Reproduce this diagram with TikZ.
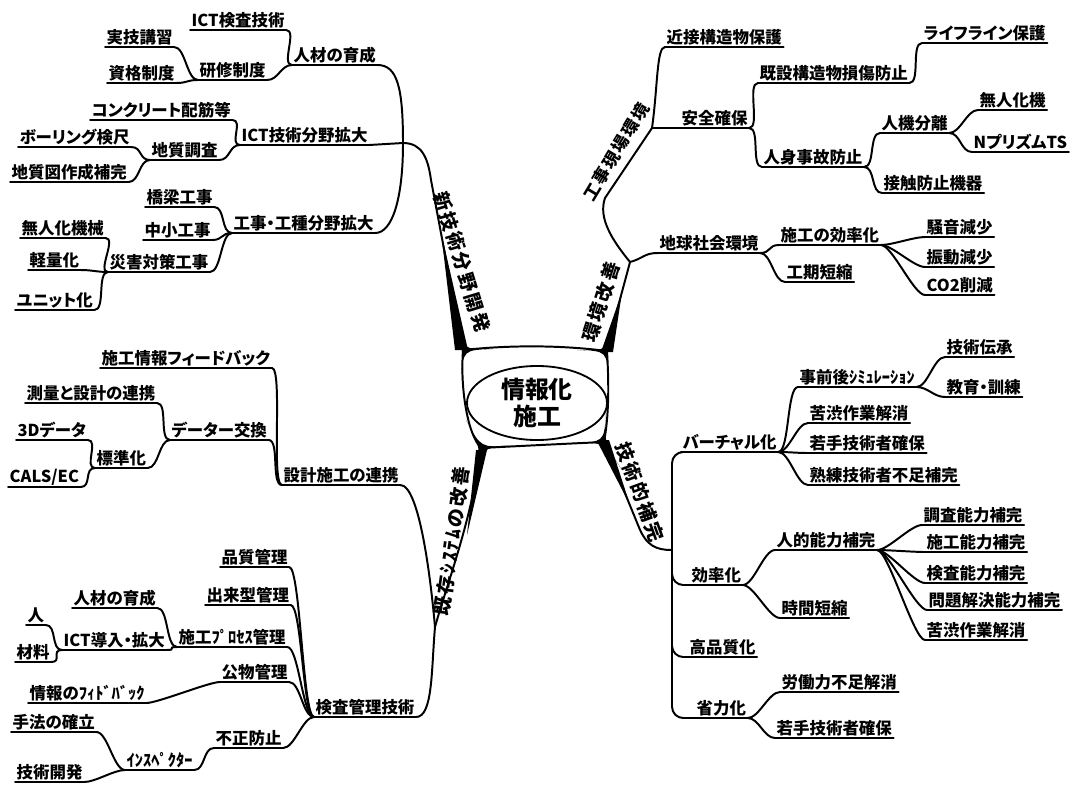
\documentclass[tikz,border=0pt]{standalone}
\usepackage{fontspec}
\setmainfont{Noto Sans CJK JP}[RawFeature=+palt]
\usetikzlibrary{shapes.geometric}

\tikzset{
  item/.style={anchor=south west, inner xsep=1pt, inner ysep=1pt,
    font=\bfseries\fontsize{11.7}{13}\selectfont},
  link/.style={line width=1.4pt, line cap=round},
  twig/.style={link, out=0, in=180, distance=8pt},
  stem/.style={link, rounded corners=8pt},
  mainlbl/.style={inner sep=0pt,
    font=\bfseries\fontsize{13.5}{14}\selectfont\addfontfeatures{LetterSpace=12}},
}

\begin{document}
\begin{tikzpicture}[x=0.025cm, y=-0.025cm]
  \path[use as bounding box, fill=white] (0,0) rectangle (1078,784);

  % centre
  \node[draw, ellipse, line width=1.3pt, minimum width=3.5cm, minimum height=1.85cm,
        inner sep=0pt, align=center, font=\bfseries\fontsize{17}{19}\selectfont]
        (core) at (537,403) {情報化\\施工};
  \coordinate (TL) at (463,350);
  \coordinate (TR) at (607,351);
  \coordinate (BR) at (604,442);
  \coordinate (BL) at (481,448);
  \coordinate (hubA) at (403,143);
  \coordinate (J4) at (435,627);
  \coordinate (J2a) at (630,262);
  \coordinate (J2b) at (652,128);
  \coordinate (J3) at (672,550);

  \draw[link] (TL) .. controls (510,345) and (560,345) .. (TR)
    .. controls (609,385) and (609,415) .. (BR)
    .. controls (560,444) and (520,446) .. (BL)
    .. controls (468,435) and (460,390) .. (TL);

  % corner fillets
  \fill (455,318) .. controls (TL) .. (493,349) .. controls (TL) .. (461,380) .. controls (TL) .. (455,318) -- cycle;
  \fill (614,322) .. controls (TR) .. (577,350) .. controls (TR) .. (608,380) .. controls (TR) .. (614,322) -- cycle;
  \fill (622,470) .. controls (BR) .. (573,443) .. controls (BR) .. (606,414) .. controls (BR) .. (622,470) -- cycle;
  \fill (475,482) .. controls (BL) .. (512,445) .. controls (BL) .. (466,420) .. controls (BL) .. (475,482) -- cycle;

  % main branches
  \draw[link] (hubA) .. controls (422,143) and (428,158) .. (431,180) -- (TL);
  \fill (441,232) -- (468,350) -- (455,350) -- cycle;
  \draw[link] (BL) .. controls (472,520) and (445,590) .. (J4);
  \fill (476,450) -- (487,450) -- (467,535) -- cycle;
  \draw[link] (TR) .. controls (614,320) and (624,285) .. (J2a)
    .. controls (612,240) and (598,218) .. (605,198) -- (J2b);
  \fill (601,352) -- (613,352) -- (622,292) -- cycle;
  \draw[link] (BR) -- (638,525) .. controls (646,546) and (656,550) .. (J3);
  \fill (597,441) -- (609,440) -- (630,505) -- cycle;

  \node[mainlbl, rotate=-73] (newTech) at (462,262) {新技術分野開発};
  \node[mainlbl, rotate=82] (legacy) at (452,541) {既存ｼｽﾃﾑの改善};
  \node[mainlbl, rotate=72] (envImp) at (601,302) {環境改善};
  \node[mainlbl, rotate=59,
        font=\bfseries\fontsize{12}{13}\selectfont\addfontfeatures{LetterSpace=10}]
        (siteEnv) at (616,152) {工事現場環境};
  \node[mainlbl, rotate=-70] (techComp) at (640,492) {技術的補完};

  % new technology fields
  \node[item] (jinzai) at (292,65) {人材の育成};
  \node[item] (ictTech) at (240,145) {ICT技術分野拡大};
  \node[item] (kouji) at (232,233) {工事・工種分野拡大};
  \node[item] (ictKensa) at (190,30) {ICT検査技術};
  \node[item] (kenshu) at (198,80) {研修制度};
  \node[item] (jitsugi) at (105,47) {実技講習};
  \node[item] (shikaku) at (107,83) {資格制度};
  \node[item] (concrete) at (90,120) {コンクリート配筋等};
  \node[item] (chishitsu) at (150,160) {地質調査};
  \node[item] (boring) at (18,147) {ボーリング検尺};
  \node[item] (chizu) at (10,182) {地質図作成補完};
  \node[item] (kyoryo) at (145,207) {橋梁工事};
  \node[item] (chusho) at (143,240) {中小工事};
  \node[item] (saigai) at (108,272) {災害対策工事};
  \node[item] (mujin) at (20,238) {無人化機械};
  \node[item] (keiryo) at (28,270) {軽量化};
  \node[item] (unit) at (15,310) {ユニット化};

  % existing systems
  \node[item] (sekkei) at (282,485) {設計施工の連携};
  \node[item] (kensa) at (314,717) {検査管理技術};
  \node[item] (feedback) at (100,368) {施工情報フィードバック};
  \node[item] (data) at (170,440) {データー交換};
  \node[item] (sokuryo) at (25,403) {測量と設計の連携};
  \node[item] (hyojun) at (95,468) {標準化};
  \node[item] (data3d) at (16,440) {3Dデータ};
  \node[item] (cals) at (8,487) {CALS/EC};
  \node[item] (hinshitsu) at (220,567) {品質管理};
  \node[item] (dekigata) at (205,605) {出来型管理};
  \node[item] (process) at (177,647) {施工ﾌﾟﾛｾｽ管理};
  \node[item] (koubutsu) at (220,682) {公物管理};
  \node[item] (fusei) at (214,748) {不正防止};
  \node[item] (ictDonyu) at (62,650) {ICT導入・拡大};
  \node[item] (jinzai2) at (72,608) {人材の育成};
  \node[item] (hito) at (26,625) {人};
  \node[item] (zairyo) at (15,662) {材料};
  \node[item] (joho) at (28,703) {情報のﾌｨﾄﾞﾊﾞｯｸ};
  \node[item] (inspector) at (125,770) {ｲﾝｽﾍﾟｸﾀｰ};
  \node[item] (shuho) at (11,732) {手法の確立};
  \node[item] (gijutsu) at (15,782) {技術開発};

  % site environment
  \node[item] (kinsetsu) at (665,47) {近接構造物保護};
  \node[item] (anzen) at (680,128) {安全確保};
  \node[item] (chikyu) at (658,253) {地球社会環境};
  \node[item] (kisetsu) at (758,83) {既設構造物損傷防止};
  \node[item] (jinshin) at (762,167) {人身事故防止};
  \node[item] (lifeline) at (922,43) {ライフライン保護};
  \node[item] (jinki) at (880,133) {人機分離};
  \node[item] (sesshoku) at (882,193) {接触防止機器};
  \node[item] (mujinka) at (978,110) {無人化機};
  \node[item] (prism) at (972,152) {NプリズムTS};
  \node[item] (sekouKoritsu) at (779,245) {施工の効率化};
  \node[item] (koki) at (785,282) {工期短縮};
  \node[item] (soon) at (925,237) {騒音減少};
  \node[item] (shindo) at (925,267) {振動減少};
  \node[item] (co2) at (925,295) {CO2削減};

  % technical support
  \node[item] (virtual) at (681,452) {バーチャル化};
  \node[item] (koritsu) at (690,585) {効率化};
  \node[item] (kohin) at (688,657) {高品質化};
  \node[item] (shoryoku) at (695,718) {省力化};
  \node[item] (jizen) at (798,387) {事前後ｼﾐｭﾚｰｼｮﾝ};
  \node[item] (kuju) at (808,423) {苦渋作業解消};
  \node[item] (wakate) at (808,453) {若手技術者確保};
  \node[item] (jukuren) at (808,485) {熟練技術者不足補完};
  \node[item] (denshou) at (945,357) {技術伝承};
  \node[item] (kyoiku) at (945,397) {教育・訓練};
  \node[item] (jinteki) at (775,550) {人的能力補完};
  \node[item] (jikan) at (780,618) {時間短縮};
  \node[item] (chosa) at (922,525) {調査能力補完};
  \node[item] (sekou) at (925,552) {施工能力補完};
  \node[item] (kensaNo) at (925,583) {検査能力補完};
  \node[item] (mondai) at (927,610) {問題解決能力補完};
  \node[item] (kuju2) at (925,640) {苦渋作業解消};
  \node[item] (rodo) at (780,692) {労働力不足解消};
  \node[item] (wakate2) at (775,738) {若手技術者確保};

  % underlines
  \foreach \n in {jinzai, ictTech, kouji, ictKensa, kenshu, jitsugi, shikaku,
      concrete, chishitsu, boring, chizu, kyoryo, chusho, saigai, mujin, keiryo, unit,
      sekkei, kensa, feedback, data, sokuryo, hyojun, data3d, cals, hinshitsu,
      dekigata, process, koubutsu, fusei, ictDonyu, jinzai2, hito, zairyo, joho,
      inspector, shuho, gijutsu, kinsetsu, anzen, chikyu, kisetsu, jinshin,
      lifeline, jinki, sesshoku, mujinka, prism, sekouKoritsu, koki, soon, shindo,
      co2, virtual, koritsu, kohin, shoryoku, jizen, kuju, wakate, jukuren,
      denshou, kyoiku, jinteki, jikan, chosa, sekou, kensaNo, mondai, kuju2,
      rodo, wakate2}
    \draw[link] (\n.south west) -- (\n.south east);

  % left side: child to parent
  \foreach \a/\b in {ictKensa/jinzai, kenshu/jinzai, jitsugi/kenshu, shikaku/kenshu,
      concrete/ictTech, chishitsu/ictTech, boring/chishitsu, chizu/chishitsu,
      kyoryo/kouji, chusho/kouji, saigai/kouji, mujin/saigai, keiryo/saigai,
      unit/saigai, feedback/sekkei, data/sekkei, sokuryo/data, hyojun/data,
      data3d/hyojun, cals/hyojun, hinshitsu/kensa, dekigata/kensa, process/kensa,
      koubutsu/kensa, fusei/kensa, ictDonyu/process, jinzai2/process,
      hito/ictDonyu, zairyo/ictDonyu, joho/koubutsu, inspector/fusei,
      shuho/inspector, gijutsu/inspector}
    \draw[twig] (\a.south east) to (\b.south west);

  % right side: parent to child
  \foreach \a/\b in {anzen/kisetsu, anzen/jinshin, kisetsu/lifeline,
      jinshin/jinki, jinshin/sesshoku, jinki/mujinka, jinki/prism,
      chikyu/sekouKoritsu, chikyu/koki, sekouKoritsu/soon, sekouKoritsu/shindo,
      sekouKoritsu/co2, virtual/jizen, virtual/kuju, virtual/wakate,
      virtual/jukuren, jizen/denshou, jizen/kyoiku, koritsu/jinteki,
      koritsu/jikan, jinteki/chosa, jinteki/sekou, jinteki/kensaNo,
      jinteki/mondai, jinteki/kuju2, shoryoku/rodo, shoryoku/wakate2}
    \draw[twig] (\a.south east) to (\b.south west);

  % junctions
  \draw[link] (jinzai.south east) to[out=0, in=90, out distance=14pt, in distance=40pt] (hubA);
  \draw[link] (ictTech.south east) -- (hubA);
  \draw[link] (kouji.south east) to[out=0, in=-90, out distance=12pt, in distance=40pt] (hubA);
  \draw[link] (sekkei.south east) to[out=0, in=95, out distance=14pt, in distance=30pt] (J4);
  \draw[link] (kensa.south east) to[out=0, in=-95, out distance=12pt, in distance=30pt] (J4);
  \draw[link] (J2b) -- (anzen.south west);
  \draw[link] (J2b) to[out=82, in=180, out distance=30pt, in distance=6pt] (kinsetsu.south west);
  \draw[link] (J2a) to[out=15, in=180, distance=10pt] (chikyu.south west);
  \foreach \n in {virtual, koritsu, kohin, shoryoku}
    \draw[stem] (J3) |- (\n.south west);
\end{tikzpicture}
\end{document}
